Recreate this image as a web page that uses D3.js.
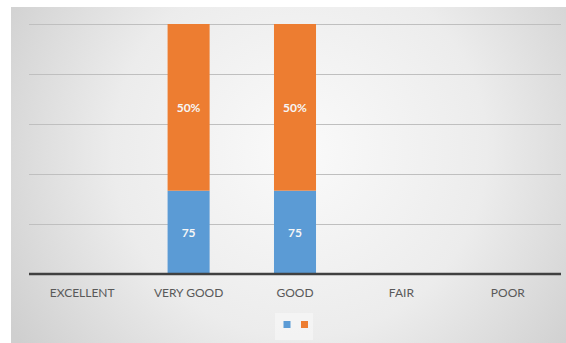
<!DOCTYPE html>
<html>
<head>
<meta charset="utf-8">
<script src="https://cdn.jsdelivr.net/npm/d3@7"></script>
<style>
  html, body { margin: 0; padding: 0; background: #ffffff; }
  svg { display: block; }
</style>
</head>
<body>
<svg id="chart" width="566" height="343"></svg>
<script>
// Ratings and the two stacked series
const categories = ["EXCELLENT", "VERY GOOD", "GOOD", "FAIR", "POOR"];
const seriesBlue = [0, 75, 75, 0, 0];
const seriesOrange = [0, 150, 150, 0, 0];
const blueLabels = ["", "75", "75", "", ""];
const orangeLabels = ["", "50%", "50%", "", ""];
const yTicks = [0, 0.2, 0.4, 0.6, 0.8, 1];

const colors = { blue: "#5b9bd5", orange: "#ed7d31" };

const svg = d3.select("#chart");
const W = 566, H = 343;

// soft radial background panel
const defs = svg.append("defs");
const grad = defs.append("radialGradient")
  .attr("id", "bg")
  .attr("gradientUnits", "userSpaceOnUse")
  .attr("cx", 300).attr("cy", 150).attr("r", 340);
grad.append("stop").attr("offset", 0).attr("stop-color", "#fafafa");
grad.append("stop").attr("offset", 0.55).attr("stop-color", "#ececec");
grad.append("stop").attr("offset", 1).attr("stop-color", "#cfcfcf");

svg.append("rect")
  .attr("x", 11).attr("y", 7)
  .attr("width", W - 11).attr("height", H - 7)
  .attr("fill", "url(#bg)");

const plot = { left: 29, right: 561, top: 24, bottom: 274 };

const x = d3.scaleBand()
  .domain(categories)
  .range([plot.left, plot.right])
  .paddingInner(0.605)
  .paddingOuter(0.3025);

const y = d3.scaleLinear()
  .domain([0, 1])
  .range([plot.bottom, plot.top]);

// gridlines
svg.append("g")
  .selectAll("line")
  .data(yTicks.filter(t => t > 0))
  .join("line")
  .attr("x1", plot.left).attr("x2", plot.right)
  .attr("y1", d => Math.round(y(d)) + 0.5)
  .attr("y2", d => Math.round(y(d)) + 0.5)
  .attr("stroke", "#bfbfbf")
  .attr("stroke-width", 1);

// stacked (100%) data
const rows = categories.map((c, i) => ({ cat: c, blue: seriesBlue[i], orange: seriesOrange[i], i }));
const stack = d3.stack().keys(["blue", "orange"]).offset(d3.stackOffsetExpand);
const layers = stack(rows);

const barG = svg.append("g");
layers.forEach(layer => {
  barG.selectAll(null)
    .data(layer.filter(d => d.data.blue + d.data.orange > 0))
    .join("rect")
    .attr("x", d => x(d.data.cat))
    .attr("width", x.bandwidth())
    .attr("y", d => y(d[1]))
    .attr("height", d => y(d[0]) - y(d[1]))
    .attr("fill", colors[layer.key]);
});

// value labels
const labelSets = { blue: blueLabels, orange: orangeLabels };
layers.forEach(layer => {
  svg.append("g")
    .selectAll("text")
    .data(layer.filter(d => labelSets[layer.key][d.data.i] !== ""))
    .join("text")
    .attr("x", d => x(d.data.cat) + x.bandwidth() / 2)
    .attr("y", d => (y(d[0]) + y(d[1])) / 2)
    .attr("dy", "0.35em")
    .attr("text-anchor", "middle")
    .attr("font-family", "Lato, 'Open Sans', sans-serif")
    .attr("font-weight", "bold")
    .attr("font-size", 12)
    .attr("fill", "#f6f6f6")
    .text(d => labelSets[layer.key][d.data.i]);
});

// category axis
const xAxis = svg.append("g")
  .attr("transform", `translate(0,${plot.bottom})`)
  .call(d3.axisBottom(x).tickSize(0).tickPadding(14));
xAxis.select(".domain")
  .attr("d", `M${plot.left},0H${plot.right}`)
  .attr("stroke", "#404040")
  .attr("stroke-width", 2.6);
xAxis.selectAll("text")
  .attr("font-family", "Lato, 'Open Sans', sans-serif")
  .attr("font-size", 12)
  .attr("fill", "#595959");

// legend
const legend = svg.append("g");
legend.append("rect")
  .attr("x", 275).attr("y", 313)
  .attr("width", 38).attr("height", 27)
  .attr("fill", "#f4f4f4")
  .attr("opacity", 0.9);
const legendKeys = ["blue", "orange"];
legend.selectAll("rect.sw")
  .data(legendKeys)
  .join("rect")
  .attr("class", "sw")
  .attr("x", (d, i) => 283.5 + i * 17.5)
  .attr("y", 321)
  .attr("width", 7).attr("height", 7)
  .attr("fill", d => colors[d]);
</script>
</body>
</html>
